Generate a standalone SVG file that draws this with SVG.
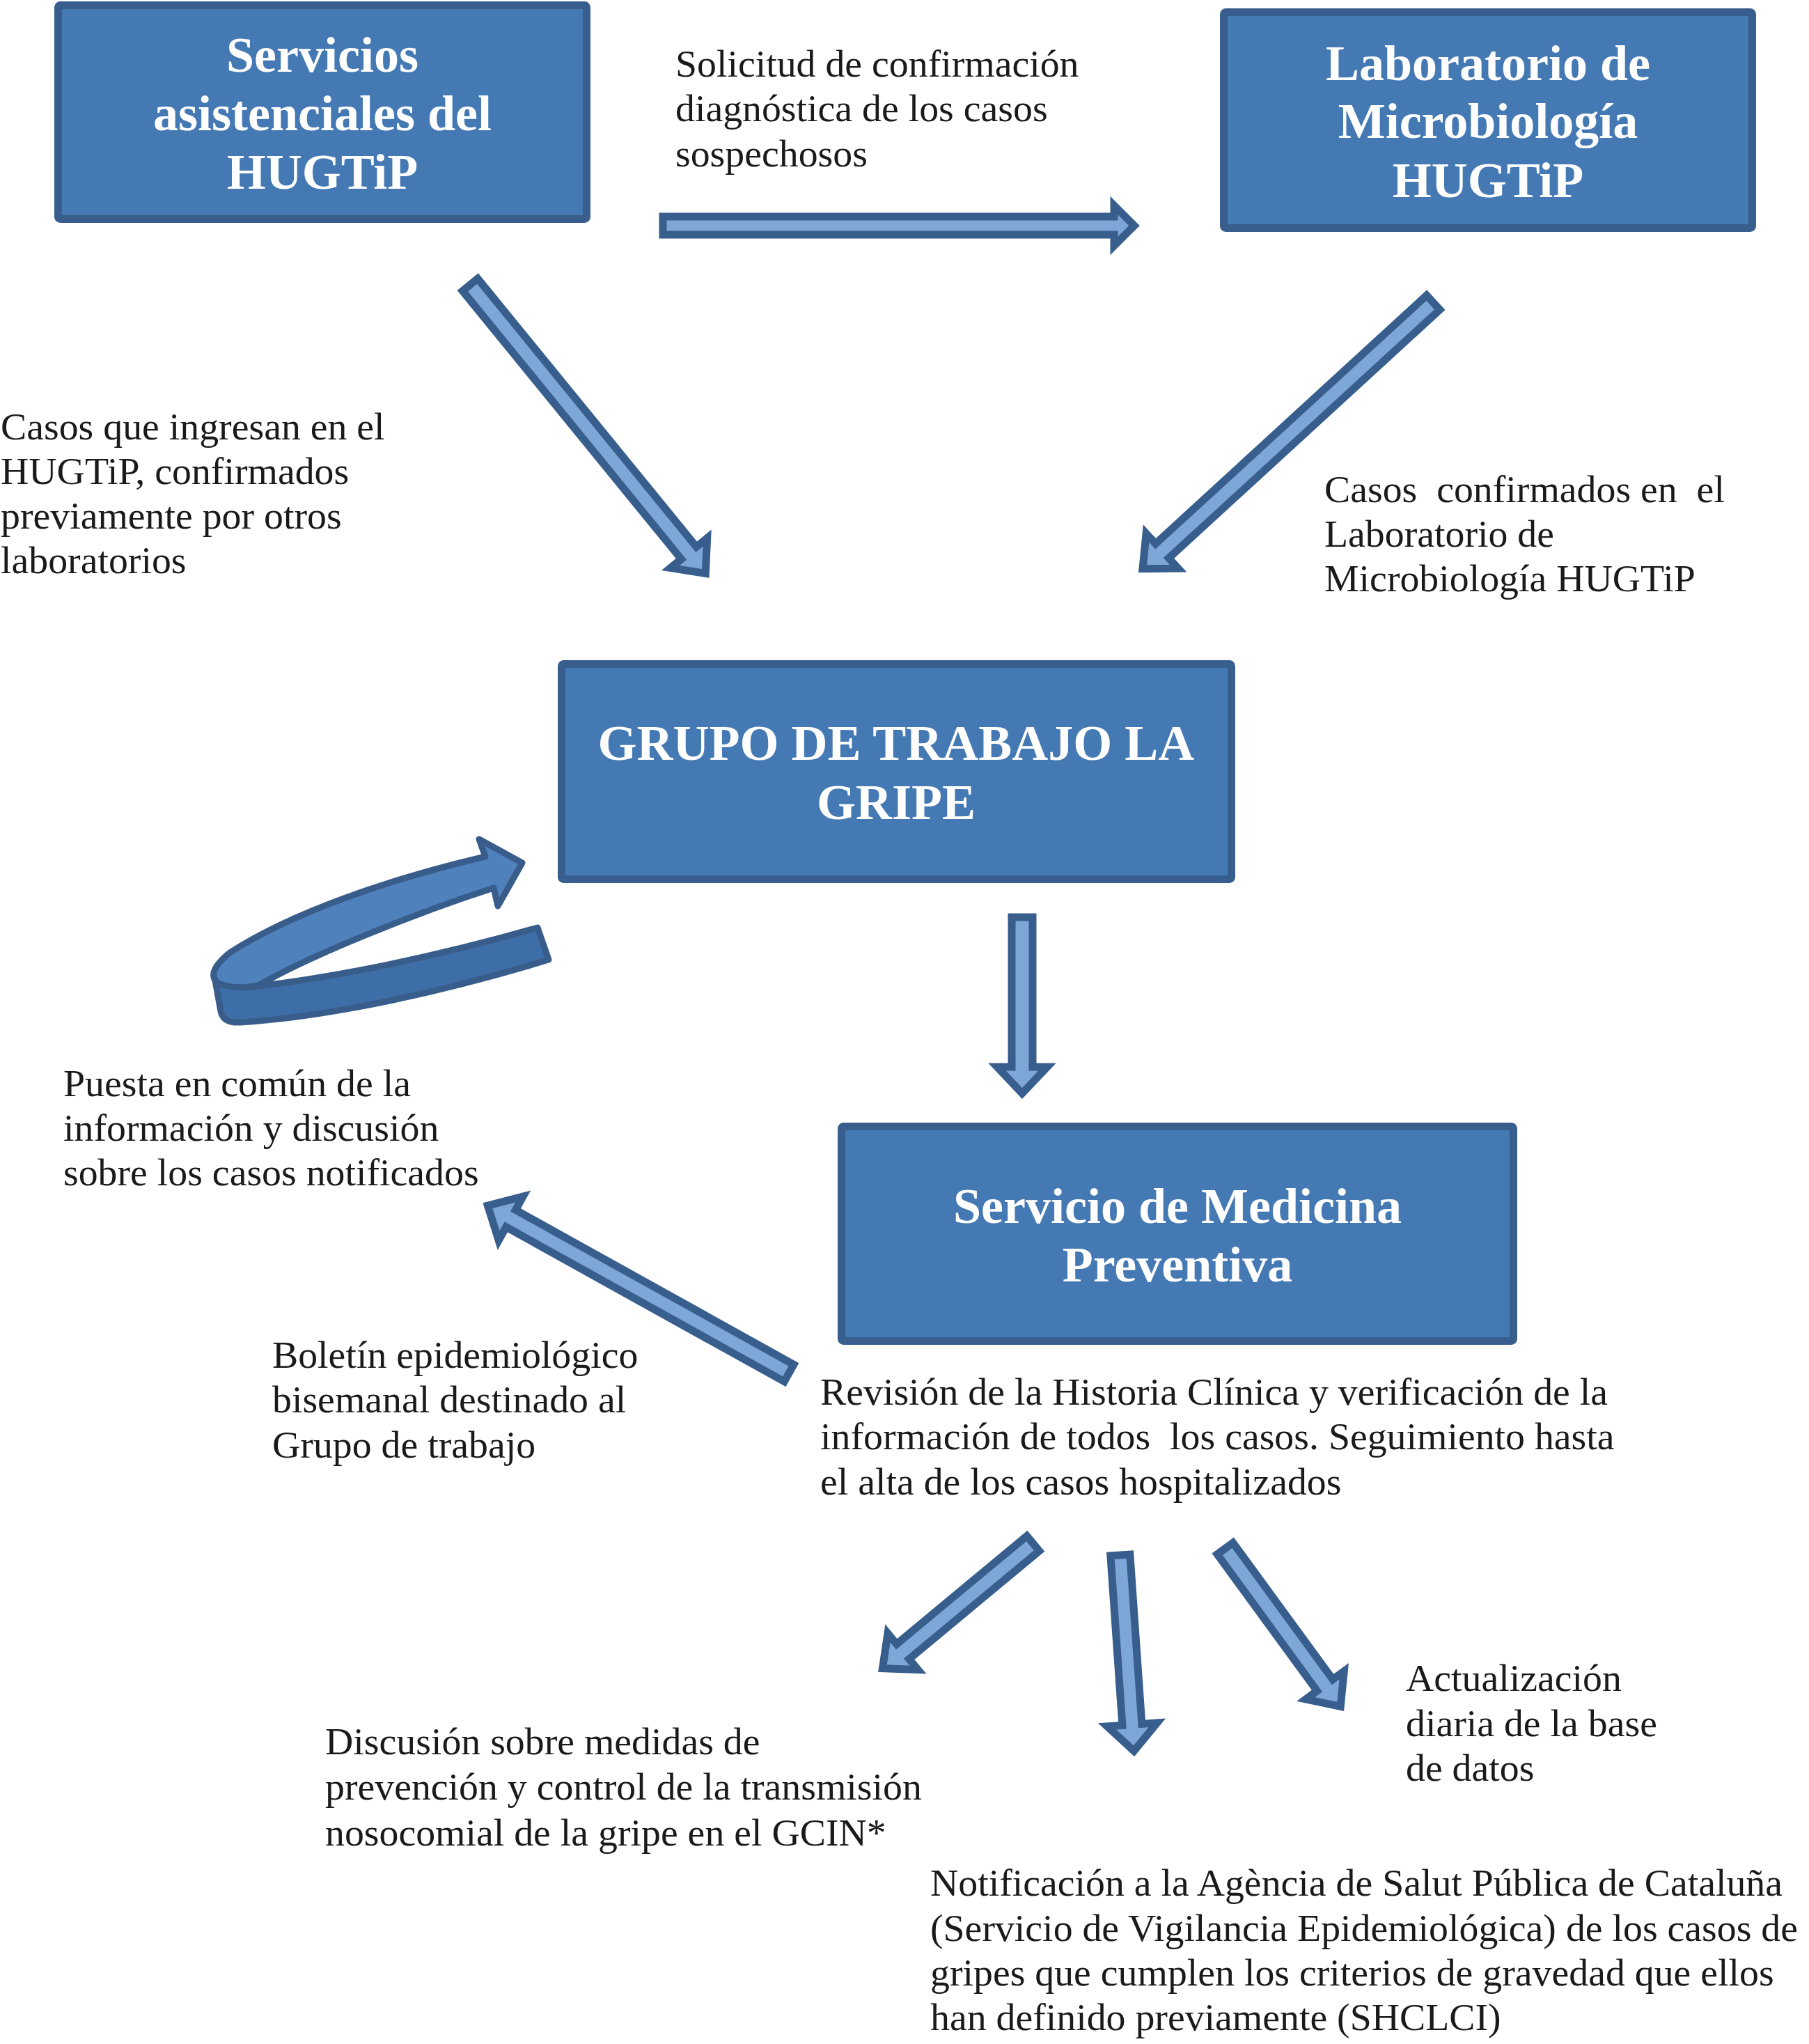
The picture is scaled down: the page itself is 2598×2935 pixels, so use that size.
<svg xmlns="http://www.w3.org/2000/svg" width="2598" height="2935" viewBox="0 0 2598 2935">
<style>
.box{fill:#4479B4;stroke:#375E8C;stroke-width:11}
.bt{font-family:"Liberation Serif","Times New Roman",serif;font-weight:bold;font-size:72px;fill:#ffffff;text-anchor:middle}
.lb{font-family:"Liberation Serif","Times New Roman",serif;font-size:55.8px;fill:#1a1a1a;white-space:pre}
.arr{fill:#7DA7D6;stroke:#375E8C;stroke-width:11;stroke-linejoin:miter;stroke-miterlimit:10}
.cf{fill:#4F81BD;stroke:#385D8A;stroke-width:9;stroke-linejoin:round}
.cb{fill:#3E6EA8;stroke:#385D8A;stroke-width:9;stroke-linejoin:round}
</style>
<rect width="2598" height="2935" fill="#ffffff"/>

<g id="node-servicios">
<rect class="box" x="83.5" y="7.5" width="759" height="307" rx="3"/>
<text class="bt" x="463" y="103">Servicios</text>
<text class="bt" x="463" y="187">asistenciales del</text>
<text class="bt" x="463" y="271">HUGTiP</text>
</g>

<g id="node-laboratorio">
<rect class="box" x="1757.5" y="17.5" width="759" height="310" rx="3"/>
<text class="bt" x="2137" y="115">Laboratorio de</text>
<text class="bt" x="2137" y="198">Microbiología</text>
<text class="bt" x="2137" y="283">HUGTiP</text>
</g>

<g id="node-grupo">
<rect class="box" x="806.5" y="953.5" width="962" height="309" rx="3"/>
<text class="bt" x="1287" y="1091">GRUPO DE TRABAJO LA</text>
<text class="bt" x="1287" y="1176">GRIPE</text>
</g>

<g id="node-medicina">
<rect class="box" x="1208.5" y="1617.5" width="965" height="308" rx="3"/>
<text class="bt" x="1691" y="1756">Servicio de Medicina</text>
<text class="bt" x="1691" y="1840">Preventiva</text>
</g>

<g id="connectors">
<!-- Servicios -> Laboratorio -->
<polygon class="arr" points="952,311 1600,311 1600,295 1629,324 1600,353 1600,337 952,337"/>
<!-- Servicios -> Grupo -->
<polygon class="arr" transform="translate(672,405) rotate(50.8)" points="5,-14 502,-14 502,-34 540,0 502,34 502,14 5,14"/>
<!-- Laboratorio -> Grupo -->
<polygon class="arr" transform="translate(2062,431) rotate(137.5)" points="5,-14 533,-14 533,-34 571,0 533,34 533,14 5,14"/>
<!-- Grupo -> Medicina -->
<polygon class="arr" transform="translate(1468,1312) rotate(90)" points="5,-15 220,-15 220,-36 258,0 220,36 220,15 5,15"/>
<!-- Medicina -> Puesta en comun -->
<polygon class="arr" transform="translate(1137.5,1974) rotate(-150.94)" points="5,-14 462,-14 462,-36 500,0 462,36 462,14 5,14"/>
<!-- bottom three -->
<polygon class="arr" transform="translate(1487.5,2213) rotate(140.3)" points="5,-14 248,-14 248,-34 286,0 248,34 248,14 5,14"/>
<polygon class="arr" transform="translate(1608.5,2228) rotate(86)" points="5,-14 249,-14 249,-36 287,0 249,36 249,14 5,14"/>
<polygon class="arr" transform="translate(1756.5,2219.5) rotate(53.85)" points="5,-14 248,-14 248,-34 286,0 248,34 248,14 5,14"/>
<!-- curved self-loop arrow -->
<path class="cb" d="M 352 1418 C 480 1405 640 1370 772 1332 L 788 1378 C 650 1420 480 1460 345 1468 C 325 1469 319 1462 317 1452 L 309 1408 C 322 1416 338 1418 352 1418 Z"/>
<path class="cf" d="M 697 1230 L 688 1205 L 750 1239 L 715 1301 L 709 1275 C 600 1310 450 1370 373 1414 C 355 1419 330 1419 314 1412 C 302 1404 303 1390 330 1368 C 420 1310 560 1262 697 1230 Z"/>
</g>

<g id="labels">
<text class="lb" x="970" y="110">Solicitud de confirmación</text>
<text class="lb" x="970" y="174">diagnóstica de los casos</text>
<text class="lb" x="970" y="239">sospechosos</text>

<text class="lb" x="1" y="631">Casos que ingresan en el</text>
<text class="lb" x="1" y="695">HUGTiP, confirmados</text>
<text class="lb" x="1" y="759">previamente por otros</text>
<text class="lb" x="1" y="823">laboratorios</text>

<text class="lb" x="1902" y="721" xml:space="preserve">Casos  confirmados en  el</text>
<text class="lb" x="1902" y="785">Laboratorio de</text>
<text class="lb" x="1902" y="849">Microbiología HUGTiP</text>

<text class="lb" x="91" y="1574">Puesta en común de la</text>
<text class="lb" x="91" y="1638">información y discusión</text>
<text class="lb" x="91" y="1702">sobre los casos notificados</text>

<text class="lb" x="391" y="1964">Boletín epidemiológico</text>
<text class="lb" x="391" y="2028">bisemanal destinado al</text>
<text class="lb" x="391" y="2093">Grupo de trabajo</text>

<text class="lb" x="1178" y="2017">Revisión de la Historia Clínica y verificación de la</text>
<text class="lb" x="1178" y="2081" xml:space="preserve">información de todos  los casos. Seguimiento hasta</text>
<text class="lb" x="1178" y="2146">el alta de los casos hospitalizados</text>

<text class="lb" x="2019" y="2428">Actualización</text>
<text class="lb" x="2019" y="2493">diaria de la base</text>
<text class="lb" x="2019" y="2557">de datos</text>

<text class="lb" x="467" y="2519">Discusión sobre medidas de</text>
<text class="lb" x="467" y="2584">prevención y control de la transmisión</text>
<text class="lb" x="467" y="2650">nosocomial de la gripe en el GCIN*</text>

<text class="lb" x="1336" y="2722">Notificación a la Agència de Salut Pública de Cataluña</text>
<text class="lb" x="1336" y="2787">(Servicio de Vigilancia Epidemiológica) de los casos de</text>
<text class="lb" x="1336" y="2851">gripes que cumplen los criterios de gravedad que ellos</text>
<text class="lb" x="1336" y="2915">han definido previamente (SHCLCI)</text>
</g>
</svg>
